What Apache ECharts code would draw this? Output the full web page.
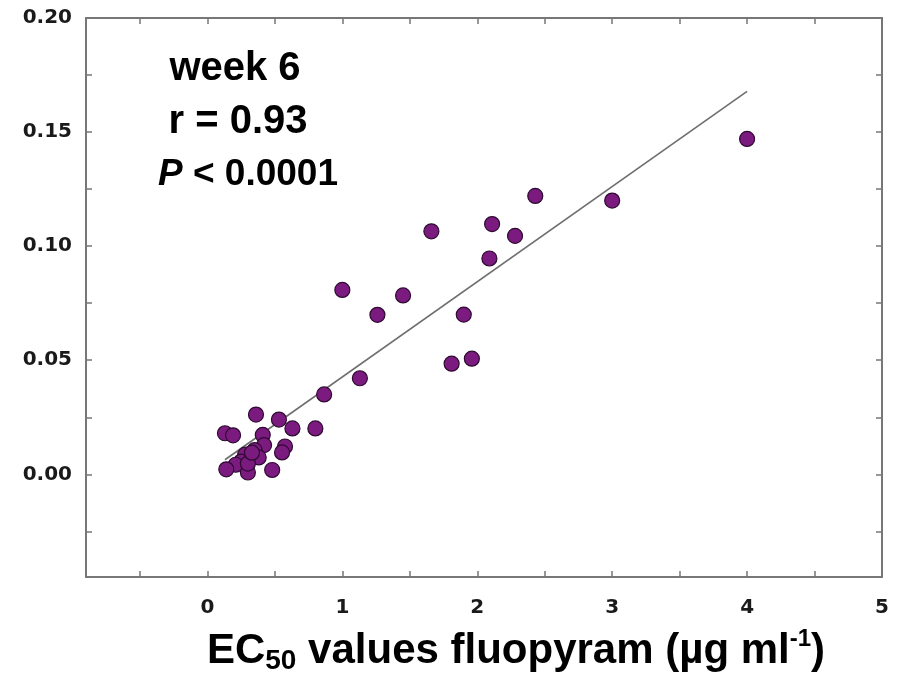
<!DOCTYPE html>
<html>
<head>
<meta charset="utf-8">
<script src="https://cdn.jsdelivr.net/npm/echarts@6/dist/echarts.min.js"></script>
<style>html,body{margin:0;padding:0;background:#fff;}#chart{width:903px;height:676px;}</style>
</head>
<body>
<div id="chart"></div>
<script>
// EC50 values (x) and response values (y)
const ec50 = [4.00, 3.00, 2.43, 2.11, 2.28, 2.09, 1.66, 1.00, 1.45, 1.26, 1.90, 1.81, 1.96, 1.13, 0.865,
  0.36, 0.53, 0.63, 0.80, 0.13, 0.19, 0.41, 0.42, 0.575, 0.553, 0.35, 0.38, 0.28, 0.25, 0.21, 0.14, 0.30, 0.48, 0.30, 0.33];
const response = [0.147, 0.120, 0.122, 0.1097, 0.1045, 0.0946, 0.1065, 0.0808, 0.0784, 0.0699, 0.0700, 0.0485, 0.0507, 0.0421, 0.035,
  0.0262, 0.0240, 0.0201, 0.0201, 0.0180, 0.0171, 0.0173, 0.0128, 0.0122, 0.0096, 0.0106, 0.0074, 0.0086, 0.0056, 0.0042, 0.0022, 0.0008, 0.0019, 0.0047, 0.0095];
// regression line end points
const fitX = [0.13, 4.0];
const fitY = [0.0064, 0.1678];
// ticks & labels
const xTickValues = [-0.5, 0, 0.5, 1, 1.5, 2, 2.5, 3, 3.5, 4, 4.5, 5];
const xLabelValues = [0, 1, 2, 3, 4, 5];
const yTickValues = [-0.025, 0, 0.025, 0.05, 0.075, 0.1, 0.125, 0.15, 0.175, 0.2];
const yLabelValues = [0, 0.05, 0.1, 0.15, 0.2];
const annotation = ['week 6', 'r = 0.93', 'P < 0.0001'];

const axisColor = '#777777';
const tickFont = { fontFamily: 'DejaVu Sans', fontWeight: 'bold', fontSize: 20, color: '#1a1a1a' };

const chart = echarts.init(document.getElementById('chart'), null, { renderer: 'canvas' });

const points = ec50.map((x, i) => [x, response[i]]);
const fitLine = fitX.map((x, i) => [x, fitY[i]]);

const xBase = { type: 'value', min: -0.9, max: 5, splitLine: { show: false },
  axisLine: { show: true, onZero: false, lineStyle: { color: axisColor, width: 2 } } };
const yBase = { type: 'value', min: -0.045, max: 0.2, splitLine: { show: false },
  axisLine: { show: true, onZero: false, lineStyle: { color: axisColor, width: 2 } } };

chart.setOption({
  animation: false,
  backgroundColor: '#ffffff',
  grid: { left: 86, right: 21, top: 18, bottom: 99, containLabel: false },
  xAxis: [
    Object.assign({}, xBase, { position: 'bottom',
      axisTick: { show: true, inside: true, length: 6, customValues: xTickValues, lineStyle: { color: axisColor, width: 1.5 } },
      axisLabel: Object.assign({ show: true, margin: 21, customValues: xLabelValues, formatter: v => String(v) }, tickFont) }),
    Object.assign({}, xBase, { position: 'top',
      axisTick: { show: true, inside: true, length: 6, customValues: xTickValues, lineStyle: { color: axisColor, width: 1.5 } },
      axisLabel: { show: false } })
  ],
  yAxis: [
    Object.assign({}, yBase, { position: 'left',
      axisTick: { show: true, inside: true, length: 6, customValues: yTickValues, lineStyle: { color: axisColor, width: 1.5 } },
      axisLabel: Object.assign({ show: true, margin: 14, customValues: yLabelValues, formatter: v => v.toFixed(2) }, tickFont) }),
    Object.assign({}, yBase, { position: 'right',
      axisTick: { show: true, inside: true, length: 6, customValues: yTickValues, lineStyle: { color: axisColor, width: 1.5 } },
      axisLabel: { show: false } })
  ],
  series: [
    { type: 'line', data: fitLine, showSymbol: false, symbol: 'none', z: 1,
      lineStyle: { color: '#6f6f6f', width: 1.6 } },
    { type: 'scatter', data: points, symbol: 'circle', symbolSize: 15, z: 2,
      itemStyle: { color: '#7b1b80', borderColor: '#2e0a30', borderWidth: 1.2, opacity: 1 } }
  ],
  graphic: [
    { type: 'text', x: 235, y: 69, z: 10,
      style: { text: annotation[0], fontFamily: 'Liberation Sans', fontWeight: 'bold', fontSize: 40, fill: '#000', align: 'center', verticalAlign: 'middle' } },
    { type: 'text', x: 238, y: 122, z: 10,
      style: { text: annotation[1], fontFamily: 'Liberation Sans', fontWeight: 'bold', fontSize: 40, fill: '#000', align: 'center', verticalAlign: 'middle' } },
    { type: 'text', x: 248, y: 175, z: 10,
      style: { text: '{i|P}{n| < 0.0001}', align: 'center', verticalAlign: 'middle',
        rich: {
          i: { fontFamily: 'Liberation Sans', fontWeight: 'bold', fontStyle: 'italic', fontSize: 37, fill: '#000' },
          n: { fontFamily: 'Liberation Sans', fontWeight: 'bold', fontSize: 37, fill: '#000' }
        } } },
    { type: 'text', x: 516, y: 651, z: 10,
      style: { text: '{n|EC}{sub|50}{n| values fluopyram (µg ml}{sup|-1}{n|)}', align: 'center', verticalAlign: 'middle',
        rich: {
          n: { fontFamily: 'Liberation Sans', fontWeight: 'bold', fontSize: 42, lineHeight: 48, fill: '#000' },
          sub: { fontFamily: 'Liberation Sans', fontWeight: 'bold', fontSize: 28, lineHeight: 21, verticalAlign: 'bottom', fill: '#000' },
          sup: { fontFamily: 'Liberation Sans', fontWeight: 'bold', fontSize: 24, lineHeight: 17, verticalAlign: 'top', fill: '#000' }
        } } }
  ]
});
</script>
</body>
</html>
